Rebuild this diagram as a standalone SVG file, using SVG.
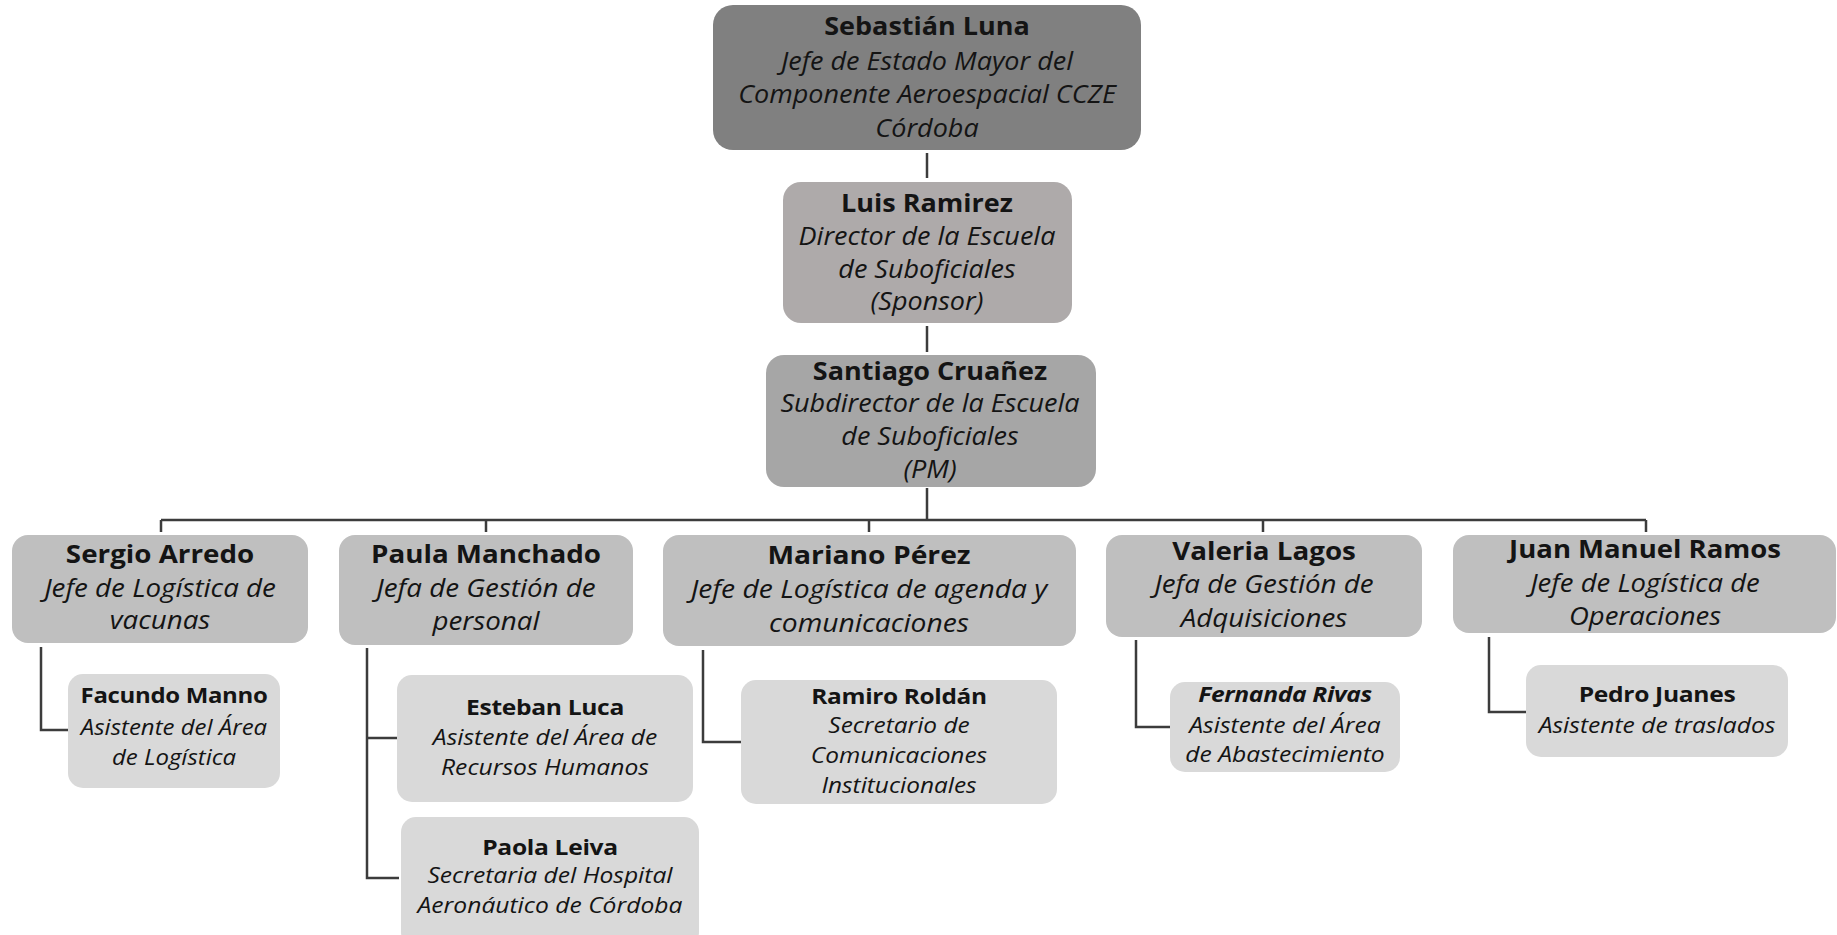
<svg xmlns="http://www.w3.org/2000/svg" width="1837" height="935" viewBox="0 0 1837 935">
<style>
text{font-family:"Open Sans","Noto Sans","Liberation Sans",sans-serif;fill:#141414;text-anchor:middle}
.n{font-weight:bold;font-size:25px}
.r{font-style:italic;font-size:25px}
.n3{font-weight:bold;font-size:22px;letter-spacing:-0.3px}
.r3{font-style:italic;font-size:22px}
.c{fill:none;stroke:#3c3c3c;stroke-width:2.5}
.l1{fill:#808080}
.l2{fill:#aeaaaa}
.l3{fill:#a6a6a6}
.l4{fill:#bfbfbf}
.l5{fill:#d9d9d9}
</style>
<rect width="1837" height="935" fill="#ffffff"/>
<g id="connectors">
<path class="c" d="M927 153V178"/>
<path class="c" d="M927 326V352"/>
<path class="c" d="M927 488V520M161 520H1646M161 520V532M486 520V532M869 520V532M1263 520V532M1646 520V532"/>
<path class="c" d="M41 647V730H68"/>
<path class="c" d="M367 648V878H399M367 738H397"/>
<path class="c" d="M703 650V742H741"/>
<path class="c" d="M1136 640V727H1170"/>
<path class="c" d="M1489 637V712H1526"/>
</g>
<g id="n-sebastian">
<rect class="l1" x="713" y="5" width="428" height="145" rx="20"/>
<g transform="matrix(1.08 0 0 1 927 0)">
<text class="n" x="0" y="35">Sebastián Luna</text>
<text class="r" x="0" y="70">Jefe de Estado Mayor del</text>
<text class="r" x="0" y="103">Componente Aeroespacial CCZE</text>
<text class="r" x="0" y="137">Córdoba</text>
</g>
</g>
<g id="n-luis">
<rect class="l2" x="783" y="182" width="289" height="141" rx="18"/>
<g transform="matrix(1.08 0 0 1 927 0)">
<text class="n" x="0" y="212">Luis Ramirez</text>
<text class="r" x="0" y="245">Director de la Escuela</text>
<text class="r" x="0" y="278">de Suboficiales</text>
<text class="r" x="0" y="310">(Sponsor)</text>
</g>
</g>
<g id="n-santiago">
<rect class="l3" x="766" y="355" width="330" height="132" rx="18"/>
<g transform="matrix(1.08 0 0 1 930 0)">
<text class="n" x="0" y="380">Santiago Cruañez</text>
<text class="r" x="0" y="412">Subdirector de la Escuela</text>
<text class="r" x="0" y="445">de Suboficiales</text>
<text class="r" x="0" y="478">(PM)</text>
</g>
</g>
<g id="n-sergio">
<rect class="l4" x="12" y="535" width="296" height="108" rx="16"/>
<g transform="matrix(1.11 0 0 1 160 0)">
<text class="n" x="0" y="563">Sergio Arredo</text>
<text class="r" x="0" y="597">Jefe de Logística de</text>
<text class="r" x="0" y="629">vacunas</text>
</g>
</g>
<g id="n-paula">
<rect class="l4" x="339" y="535" width="294" height="110" rx="16"/>
<g transform="matrix(1.11 0 0 1 486 0)">
<text class="n" x="0" y="563">Paula Manchado</text>
<text class="r" x="0" y="597">Jefa de Gestión de</text>
<text class="r" x="0" y="630">personal</text>
</g>
</g>
<g id="n-mariano">
<rect class="l4" x="663" y="535" width="413" height="111" rx="16"/>
<g transform="matrix(1.13 0 0 1 869 0)">
<text class="n" x="0" y="564">Mariano Pérez</text>
<text class="r" x="0" y="598">Jefe de Logística de agenda y</text>
<text class="r" x="0" y="632">comunicaciones</text>
</g>
</g>
<g id="n-valeria">
<rect class="l4" x="1106" y="535" width="316" height="102" rx="16"/>
<g transform="matrix(1.11 0 0 1 1264 0)">
<text class="n" x="0" y="560">Valeria Lagos</text>
<text class="r" x="0" y="593">Jefa de Gestión de</text>
<text class="r" x="0" y="627">Adquisiciones</text>
</g>
</g>
<g id="n-juan">
<rect class="l4" x="1453" y="535" width="383" height="98" rx="16"/>
<g transform="matrix(1.1 0 0 1 1645 0)">
<text class="n" x="0" y="558">Juan Manuel Ramos</text>
<text class="r" x="0" y="592">Jefe de Logística de</text>
<text class="r" x="0" y="625">Operaciones</text>
</g>
</g>
<g id="n-facundo">
<rect class="l5" x="68" y="674" width="212" height="114" rx="15"/>
<g transform="matrix(1.09 0 0 1 174 0)">
<text class="n3" x="0" y="703">Facundo Manno</text>
<text class="r3" x="0" y="735">Asistente del Área</text>
<text class="r3" x="0" y="765">de Logística</text>
</g>
</g>
<g id="n-esteban">
<rect class="l5" x="397" y="675" width="296" height="127" rx="15"/>
<g transform="matrix(1.12 0 0 1 545 0)">
<text class="n3" x="0" y="715">Esteban Luca</text>
<text class="r3" x="0" y="745">Asistente del Área de</text>
<text class="r3" x="0" y="775">Recursos Humanos</text>
</g>
</g>
<g id="n-paola">
<rect class="l5" x="401" y="817" width="298" height="130" rx="15"/>
<g transform="matrix(1.12 0 0 1 550 0)">
<text class="n3" x="0" y="855">Paola Leiva</text>
<text class="r3" x="0" y="883">Secretaria del Hospital</text>
<text class="r3" x="0" y="913">Aeronáutico de Córdoba</text>
</g>
</g>
<g id="n-ramiro">
<rect class="l5" x="741" y="680" width="316" height="124" rx="15"/>
<g transform="matrix(1.11 0 0 1 899 0)">
<text class="n3" x="0" y="704">Ramiro Roldán</text>
<text class="r3" x="0" y="733">Secretario de</text>
<text class="r3" x="0" y="763">Comunicaciones</text>
<text class="r3" x="0" y="793">Institucionales</text>
</g>
</g>
<g id="n-fernanda">
<rect class="l5" x="1170" y="682" width="230" height="90" rx="15"/>
<g transform="matrix(1.12 0 0 1 1285 0)">
<text class="n3" x="0" y="702" font-style="italic">Fernanda Rivas</text>
<text class="r3" x="0" y="733">Asistente del Área</text>
<text class="r3" x="0" y="762">de Abastecimiento</text>
</g>
</g>
<g id="n-pedro">
<rect class="l5" x="1526" y="665" width="262" height="92" rx="15"/>
<g transform="matrix(1.12 0 0 1 1657 0)">
<text class="n3" x="0" y="702">Pedro Juanes</text>
<text class="r3" x="0" y="733">Asistente de traslados</text>
</g>
</g>
</svg>
